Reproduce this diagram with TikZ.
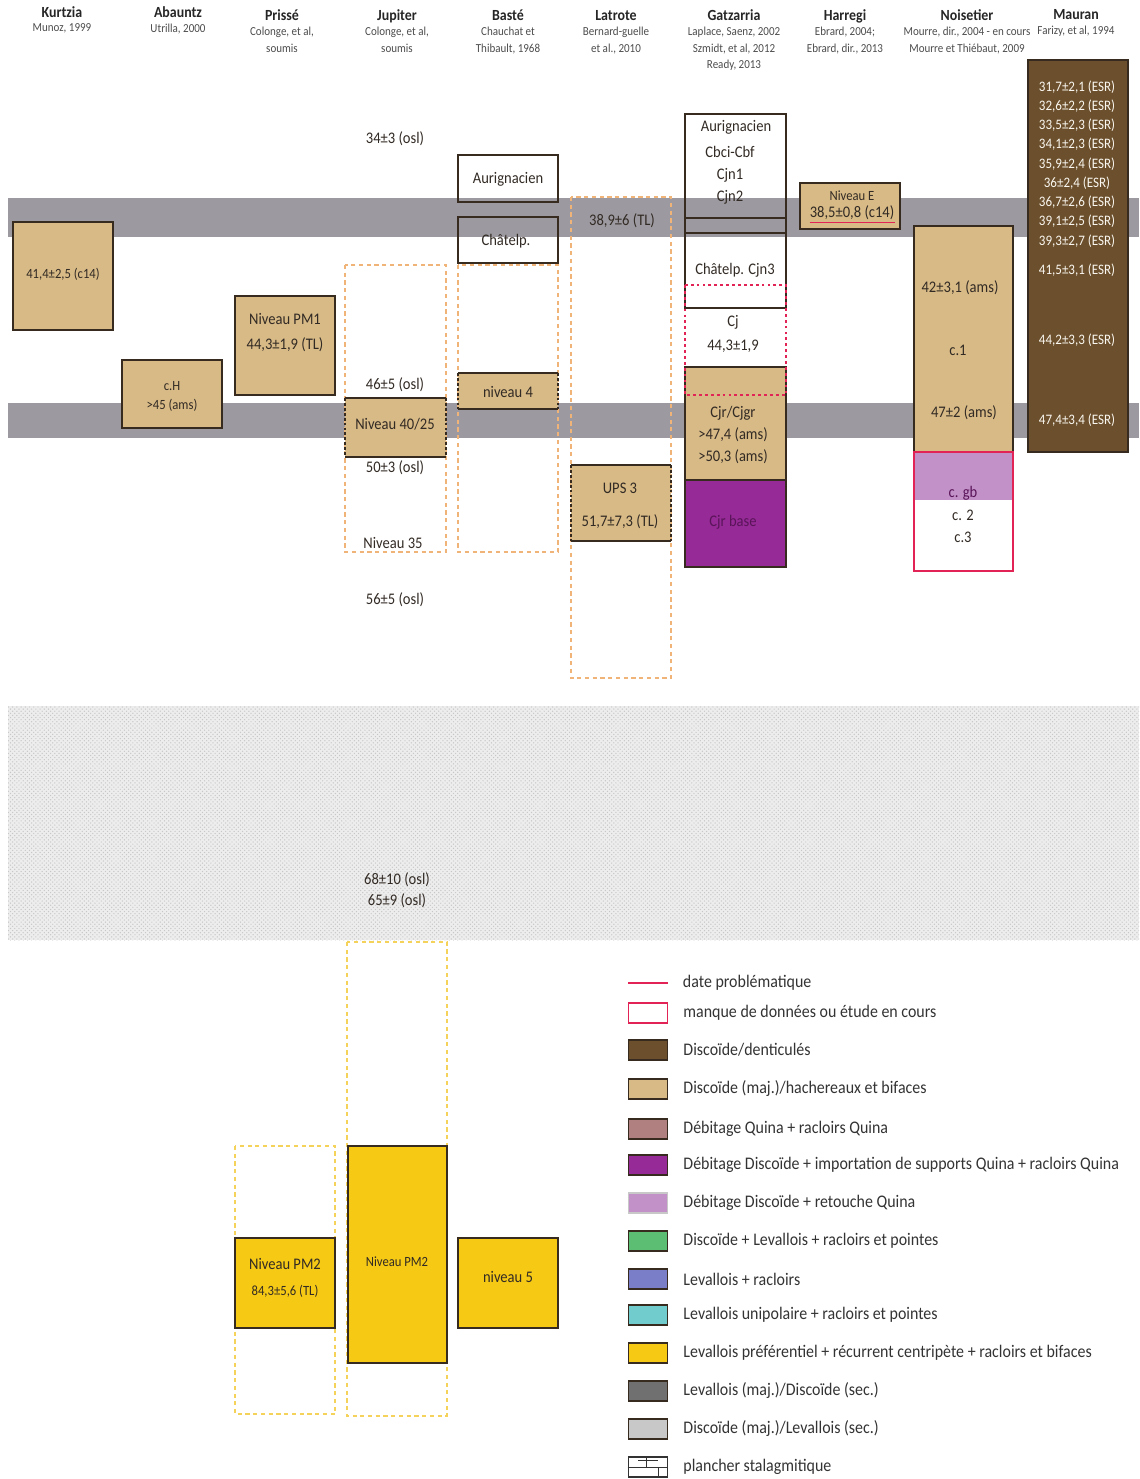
\documentclass[tikz,border=0pt]{standalone}
\usepackage{fontspec}
\setmainfont[FakeStretch=0.9]{Carlito}
\usetikzlibrary{positioning, patterns}
\definecolor{tanfill}    {RGB}{215,186,134}
\definecolor{brownfill}  {RGB}{108, 80, 45}
\definecolor{quinarose}  {RGB}{176,128,128}
\definecolor{quinapurple}{RGB}{150, 42,150}
\definecolor{lilac}      {RGB}{193,145,199}
\definecolor{levgreen}   {RGB}{ 92,190,115}
\definecolor{levblue}    {RGB}{122,126,200}
\definecolor{levcyan}    {RGB}{112,204,205}
\definecolor{levyellow}  {RGB}{245,201, 20}
\definecolor{levdark}    {RGB}{112,112,112}
\definecolor{levlight}   {RGB}{200,200,200}
\definecolor{bandgray}   {RGB}{156,154,160}
\definecolor{problred}   {RGB}{225, 35, 85}
\definecolor{edgebrown}  {RGB}{ 55, 42, 30}
\definecolor{dashorange} {RGB}{240,180,120}
\definecolor{dashyellow} {RGB}{245,210, 90}
\definecolor{labeltext}  {RGB}{ 50, 42, 36}
\definecolor{deeppurple} {RGB}{ 90, 20, 90}

\begin{document}
\begin{tikzpicture}[x=0.025cm, y=-0.025cm,
  hdr/.style={font=\bfseries\fontsize{11}{12}\selectfont, text=black!85,
    inner sep=0pt, text height=7.5pt, text depth=2pt},
  ref/.style={font=\fontsize{8.7}{11.7}\selectfont, text=black!70,
    align=center, inner sep=0pt},
  lbl/.style={font=\fontsize{11.5}{12}\selectfont, text=labeltext, inner sep=0pt},
  sml/.style={font=\fontsize{10}{11}\selectfont, text=labeltext, inner sep=0pt},
  esr/.style={font=\fontsize{10.3}{11}\selectfont, text=white!88!tanfill, inner sep=0pt},
  leg/.style={font=\fontsize{12.6}{13}\selectfont, text=black!80, inner sep=0pt},
  tanbox/.style={fill=tanfill, draw=edgebrown, line width=1.3pt},
  tanfill only/.style={fill=tanfill},
  yelbox/.style={fill=levyellow, draw=edgebrown, line width=1.3pt},
  openbox/.style={draw=edgebrown, line width=1.3pt},
  solidedge/.style={draw=edgebrown, line width=1.3pt},
  dashedge/.style={draw=edgebrown, line width=1.3pt, dash pattern=on 2pt off 1.5pt},
  gap/.style={draw=dashorange, line width=1pt, dash pattern=on 3pt off 2.5pt},
  gapy/.style={draw=dashyellow, line width=1pt, dash pattern=on 3pt off 2.5pt},
  dotred/.style={draw=problred, line width=2pt, dash pattern=on 2pt off 2.2pt},
  legsw/.style={draw=edgebrown, line width=1.1pt, minimum width=0.98cm,
    minimum height=0.5cm, inner sep=0pt},
]
\useasboundingbox (0,0) rectangle (1139,1479);

%% Background: stalagmitic floors and hiatus
\fill[bandgray] (8,198) rectangle (1139,237);
\fill[bandgray] (8,403) rectangle (1139,438);
\fill[black!7] (8,706) rectangle (1139,940);
\fill[pattern=crosshatch dots, pattern color=black!22] (8,706) rectangle (1139,940);

%% Site headers
\foreach \x/\y/\nm/\ttl/\src in {
  62/14/kurtzia/Kurtzia/{Munoz, 1999},
  178/14/abauntz/Abauntz/{Utrilla, 2000},
  282/17/prisse/Prissé/{Colonge, et al,\\soumis},
  397/17/jupiter/Jupiter/{Colonge, et al,\\soumis},
  508/17/baste/Basté/{Chauchat et\\Thibault, 1968},
  616/17/latrote/Latrote/{Bernard-guelle\\et al., 2010},
  734/17/gatzarria/Gatzarria/{Laplace, Saenz, 2002\\Szmidt, et al, 2012\\Ready, 2013},
  845/17/harregi/Harregi/{Ebrard, 2004;\\Ebrard, dir., 2013},
  967/17/noisetier/Noisetier/{Mourre, dir., 2004 - en cours\\Mourre et Thiébaut, 2009},
  1076/16/mauran/Mauran/{Farizy, et al, 1994}}{
  \node[hdr] (\nm) at (\x,\y) {\ttl};
  \node[ref, below=2pt of \nm] (\nm-ref) {\src};
}

%% Kurtzia
\path[tanbox] (13,222) rectangle (113,330);
\node[sml] (kz1) at (63,274) {41,4±2,5 (c14)};

%% Abauntz
\path[tanbox] (122,360) rectangle (222,428);
\node[sml] (ab1) at (172,386) {c.H};
\node[sml] (ab2) at (172,405) {>45 (ams)};

%% Prissé
\path[tanbox] (235,296) rectangle (335,395);
\node[lbl] (pr1) at (285,319) {Niveau PM1};
\node[lbl] (pr2) at (285,345) {44,3±1,9 (TL)};
\path[gapy] (235,1146) rectangle (335,1414);
\path[yelbox] (235,1238) rectangle (335,1328);
\node[lbl] (pr3) at (285,1264) {Niveau PM2};
\node[sml] (pr4) at (285,1291) {84,3±5,6 (TL)};

%% Jupiter
\node[lbl] (ju1) at (395,139) {34±3 (osl)};
\path[gap] (345,265) rectangle (446,552);
\path[tanfill only] (345,398) rectangle (446,457);
\draw[solidedge] (345,398) -- (446,398) (345,457) -- (446,457);
\draw[dashedge] (345,398) -- (345,457) (446,398) -- (446,457);
\node[lbl] (ju2) at (395,385) {46±5 (osl)};
\node[lbl] (ju3) at (395,424) {Niveau 40/25};
\node[lbl] (ju4) at (395,468) {50±3 (osl)};
\node[lbl] (ju5) at (393,543) {Niveau 35};
\node[lbl] (ju6) at (395,600) {56±5 (osl)};
\node[lbl] (ju7) at (397,880) {68±10 (osl)};
\node[lbl] (ju8) at (397,901) {65±9 (osl)};
\path[gapy] (347,942) rectangle (447,1416);
\path[yelbox] (348,1146) rectangle (447,1363);
\node[sml] (ju9) at (397,1262) {Niveau PM2};

%% Basté
\path[openbox] (458,155) rectangle (558,202);
\node[lbl] (ba1) at (508,179) {Aurignacien};
\path[openbox] (458,217) rectangle (558,263);
\node[lbl] (ba2) at (506,241) {Châtelp.};
\path[gap] (458,265) rectangle (558,552);
\path[tanfill only] (458,373) rectangle (558,409);
\draw[solidedge] (458,373) -- (558,373) (458,409) -- (558,409);
\draw[dashedge] (458,373) -- (458,409) (558,373) -- (558,409);
\node[lbl] (ba3) at (508,392) {niveau 4};
\path[yelbox] (458,1238) rectangle (558,1328);
\node[lbl] (ba4) at (508,1277) {niveau 5};

%% Latrote
\path[gap] (571,197) rectangle (671,678);
\node[lbl] (la1) at (622,221) {38,9±6 (TL)};
\path[tanfill only] (571,465) rectangle (671,541);
\draw[solidedge] (571,465) -- (671,465) (571,541) -- (671,541);
\draw[dashedge] (571,465) -- (571,541) (671,465) -- (671,541);
\node[lbl] (la2) at (620,488) {UPS 3};
\node[lbl] (la3) at (620,522) {51,7±7,3 (TL)};

%% Gatzarria
\path[openbox] (685,114) rectangle (786,218);
\path[openbox] (685,218) rectangle (786,233);
\path[openbox] (685,233) rectangle (786,308);
\node[lbl] (ga1) at (736,127) {Aurignacien};
\node[lbl] (ga2) at (730,152) {Cbci-Cbf};
\node[lbl] (ga3) at (730,175) {Cjn1};
\node[lbl] (ga4) at (730,197) {Cjn2};
\node[lbl] (ga5) at (735,270) {Châtelp. Cjn3};
\path[tanbox] (685,367) rectangle (786,480);
\path[fill=quinapurple, draw=edgebrown, line width=1.3pt] (685,480) rectangle (786,567);
\path[dotred] (685,285) rectangle (786,395);
\node[lbl] (ga6) at (733,322) {Cj};
\node[lbl] (ga7) at (733,346) {44,3±1,9};
\node[lbl] (ga8) at (733,413) {Cjr/Cjgr};
\node[lbl] (ga9) at (733,435) {>47,4 (ams)};
\node[lbl] (ga10) at (733,457) {>50,3 (ams)};
\node[lbl, text=deeppurple] (ga11) at (733,522) {Cjr base};

%% Harregi
\path[tanbox] (800,183) rectangle (900,229);
\node[sml] (ha1) at (852,196) {Niveau E};
\node[lbl] (ha2) at (852,213) {38,5±0,8 (c14)};
\draw[problred, line width=1.1pt] ([yshift=-1.5pt]ha2.south west) -- ([yshift=-1.5pt]ha2.south east);

%% Noisetier
\path[tanbox] (914,226) rectangle (1013,452);
\node[lbl] (no1) at (960,288) {42±3,1 (ams)};
\node[lbl] (no2) at (958,350) {c.1};
\node[lbl] (no3) at (964,413) {47±2 (ams)};
\fill[lilac] (914,452) rectangle (1013,500);
\draw[problred, line width=2pt] (914,452) rectangle (1013,571);
\node[lbl, text=deeppurple] (no4) at (963,493) {c. gb};
\node[lbl] (no5) at (963,515) {c. 2};
\node[lbl] (no6) at (963,537) {c.3};

%% Mauran
\path[fill=brownfill, draw=edgebrown, line width=1.3pt] (1028,60) rectangle (1128,452);
\foreach \y/\ttl [count=\i] in {
  87/{31,7±2,1 (ESR)}, 106/{32,6±2,2 (ESR)}, 125/{33,5±2,3 (ESR)},
  144/{34,1±2,3 (ESR)}, 164/{35,9±2,4 (ESR)}, 183/{36±2,4 (ESR)},
  202/{36,7±2,6 (ESR)}, 221/{39,1±2,5 (ESR)}, 241/{39,3±2,7 (ESR)},
  270/{41,5±3,1 (ESR)}, 340/{44,2±3,3 (ESR)}, 420/{47,4±3,4 (ESR)}}{
  \node[esr] (esr\i) at (1077,\y) {\ttl};
}

%% Legend
\node[minimum width=0.98cm, inner sep=0pt] (sw0) at (648,983) {};
\draw[problred, line width=1pt] (sw0.west) -- (sw0.east);
\node[leg, right=0.37cm of sw0] (lg0) {date problématique};
\foreach \y/\fc/\dc/\ttl [count=\i] in {
  1013/white/problred/{manque de données ou étude en cours},
  1050/brownfill/edgebrown/{Discoïde/denticulés},
  1089/tanfill/edgebrown/{Discoïde (maj.)/hachereaux et bifaces},
  1129/quinarose/edgebrown/{Débitage Quina + racloirs Quina},
  1165/quinapurple/edgebrown/{Débitage Discoïde + importation de supports Quina + racloirs Quina},
  1203/lilac/levlight/{Débitage Discoïde + retouche Quina},
  1241/levgreen/edgebrown/{Discoïde + Levallois + racloirs et pointes},
  1279/levblue/edgebrown/{Levallois + racloirs},
  1315/levcyan/edgebrown/{Levallois unipolaire + racloirs et pointes},
  1353/levyellow/edgebrown/{Levallois préférentiel + récurrent centripète + racloirs et bifaces},
  1391/levdark/edgebrown/{Levallois (maj.)/Discoïde (sec.)},
  1429/levlight/edgebrown/{Discoïde (maj.)/Levallois (sec.)},
  1467/white/black!80/{plancher stalagmitique}}{
  \node[legsw, fill=\fc, draw=\dc] (sw\i) at (648,\y) {};
  \node[leg, right=0.37cm of sw\i] (lg\i) {\ttl};
}
%% plancher symbol
\draw[black!80, line width=0.5pt] (sw13.west) -- (sw13.east)
  ([xshift=-0.05cm]sw13.north) -- ([xshift=-0.05cm]sw13.center)
  ([xshift=0.25cm]sw13.center) -- ([xshift=0.25cm]sw13.south)
  ([xshift=-0.25cm, yshift=-0.1cm]sw13.north) -- ([xshift=0.25cm, yshift=-0.1cm]sw13.north);
\end{tikzpicture}
\end{document}
